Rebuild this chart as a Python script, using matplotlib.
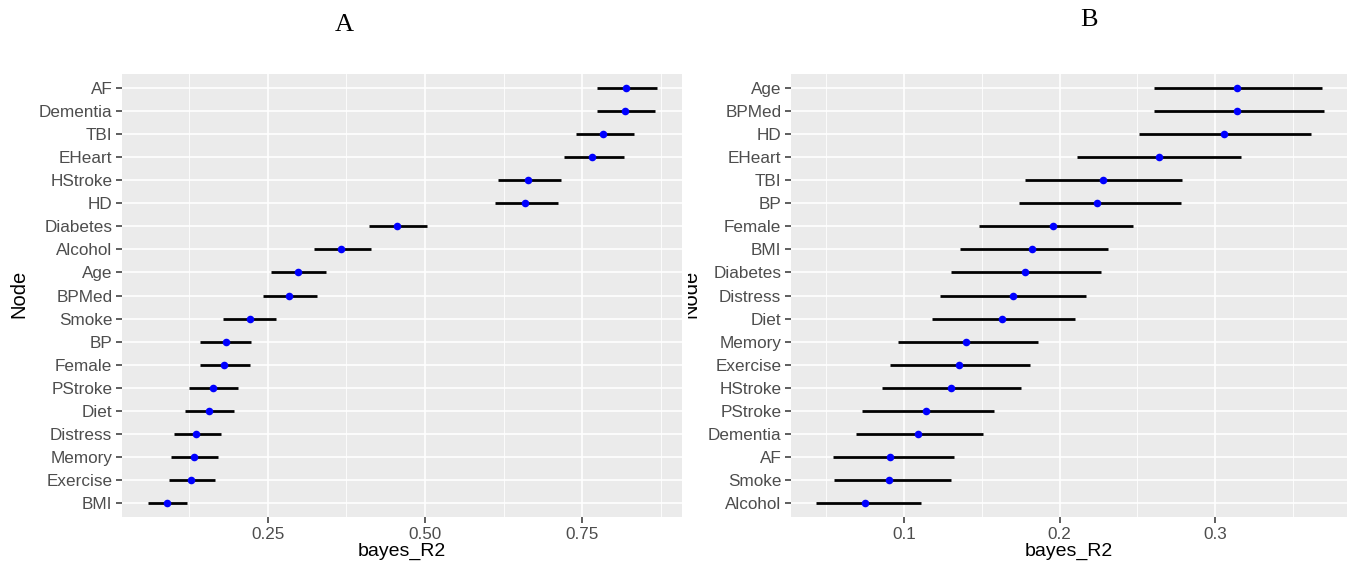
import matplotlib
matplotlib.use("Agg")
import matplotlib.pyplot as plt
from matplotlib.ticker import FixedLocator
from matplotlib.transforms import Bbox

# Panel A data (top to bottom)
nodes_a = ["AF", "Dementia", "TBI", "EHeart", "HStroke", "HD", "Diabetes", "Alcohol",
           "Age", "BPMed", "Smoke", "BP", "Female", "PStroke", "Diet", "Distress",
           "Memory", "Exercise", "BMI"]
est_a = [0.820, 0.818, 0.784, 0.766, 0.664, 0.659, 0.456, 0.367, 0.298, 0.283,
         0.221, 0.183, 0.181, 0.162, 0.156, 0.136, 0.132, 0.128, 0.089]
lo_a = [0.774, 0.774, 0.740, 0.721, 0.617, 0.611, 0.411, 0.324, 0.255, 0.242,
        0.179, 0.142, 0.142, 0.124, 0.119, 0.101, 0.096, 0.093, 0.059]
hi_a = [0.869, 0.866, 0.833, 0.816, 0.716, 0.711, 0.504, 0.414, 0.343, 0.328,
        0.263, 0.224, 0.221, 0.203, 0.196, 0.175, 0.170, 0.166, 0.121]

# Panel B data (top to bottom)
nodes_b = ["Age", "BPMed", "HD", "EHeart", "TBI", "BP", "Female", "BMI", "Diabetes",
           "Distress", "Diet", "Memory", "Exercise", "HStroke", "PStroke", "Dementia",
           "AF", "Smoke", "Alcohol"]
est_b = [0.314, 0.314, 0.306, 0.264, 0.228, 0.224, 0.196, 0.182, 0.178, 0.170,
         0.163, 0.140, 0.135, 0.130, 0.114, 0.109, 0.091, 0.090, 0.075]
lo_b = [0.261, 0.2606, 0.251, 0.211, 0.178, 0.174, 0.148, 0.136, 0.130, 0.123,
        0.118, 0.096, 0.091, 0.086, 0.073, 0.069, 0.054, 0.055, 0.043]
hi_b = [0.369, 0.370, 0.362, 0.317, 0.279, 0.278, 0.247, 0.231, 0.227, 0.217,
        0.210, 0.186, 0.181, 0.175, 0.158, 0.151, 0.132, 0.130, 0.111]

ticks_a = [0.25, 0.50, 0.75]
ticklabels_a = ["0.25", "0.50", "0.75"]
ticks_b = [0.1, 0.2, 0.3]
ticklabels_b = ["0.1", "0.2", "0.3"]

W, H = 1354, 572
fig = plt.figure(figsize=(W / 100, H / 100), dpi=100)
fig.patch.set_facecolor("white")

SANS = ["Liberation Sans", "DejaVu Sans"]
SERIF = ["Liberation Serif", "DejaVu Serif"]


def panel(rect, nodes, est, lo, hi, xlim, ticks, ticklabels, minor):
    ax = fig.add_axes(rect)
    ax.set_facecolor("#EBEBEB")
    for s in ax.spines.values():
        s.set_visible(False)
    n = len(nodes)
    ys = list(range(n - 1, -1, -1))
    ax.set_xlim(*xlim)
    ax.set_ylim(-0.6, n - 1 + 0.6)
    ax.xaxis.set_major_locator(FixedLocator(ticks))
    ax.xaxis.set_minor_locator(FixedLocator(minor))
    ax.set_xticklabels(ticklabels)
    ax.set_yticks(ys)
    ax.set_yticklabels(nodes)
    ax.grid(which="major", color="white", linewidth=1.2)
    ax.grid(which="minor", axis="x", color="white", linewidth=0.6)
    ax.set_axisbelow(True)
    ax.tick_params(axis="both", which="major", length=4, width=1.1, color="#333333",
                   labelcolor="#4D4D4D", labelsize=12.3, pad=3)
    ax.tick_params(axis="both", which="minor", length=0)
    for lab in ax.get_xticklabels() + ax.get_yticklabels():
        lab.set_family(SANS)
    ax.hlines(ys, lo, hi, color="black", linewidth=2.0, zorder=3)
    ax.scatter(est, ys, s=30, color="#0000FF", zorder=4, linewidths=0)
    ax.set_xlabel("bayes_R2", fontsize=14, family=SANS, color="black", labelpad=1)
    return ax


axA = panel([122 / W, 1 - 517 / H, (682 - 122) / W, (517 - 74) / H],
            nodes_a, est_a, lo_a, hi_a, (0.018, 0.909), ticks_a, ticklabels_a,
            [0.125, 0.375, 0.625, 0.875])
axB = panel([791 / W, 1 - 517 / H, (1347 - 791) / W, (517 - 74) / H],
            nodes_b, est_b, lo_b, hi_b, (0.0272, 0.385), ticks_b, ticklabels_b,
            [0.05, 0.15, 0.25, 0.35])

# y-axis labels
fig.text(19 / W, 1 - 294 / H, "Node", rotation=90, ha="center", va="center",
         fontsize=14.5, family=SANS, color="black")
tB = fig.text(690.5 / W, 1 - 294 / H, "Node", rotation=90, ha="center", va="center",
              fontsize=14.5, family=SANS, color="black")
tB.set_clip_box(Bbox.from_extents(688, 0, W, H))
tB.set_clip_on(True)

# Titles
fig.text(344 / W, 1 - 25 / H, "A", ha="center", va="center", fontsize=19,
         family=SERIF, color="black")
fig.text(1089 / W, 1 - 19.5 / H, "B", ha="center", va="center", fontsize=19,
         family=SERIF, color="black")

fig.savefig("out.png", dpi=100)
